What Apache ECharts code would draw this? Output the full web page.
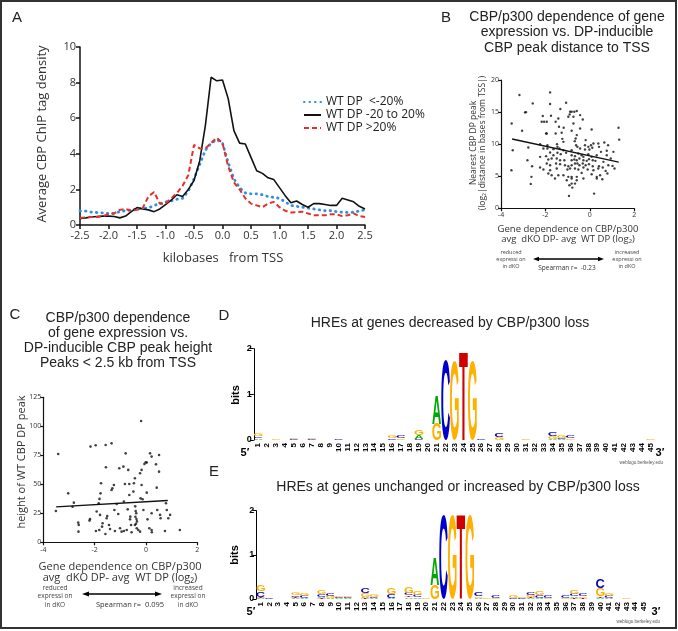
<!DOCTYPE html>
<html><head><meta charset="utf-8">
<script src="https://cdn.jsdelivr.net/npm/echarts@6/dist/echarts.min.js"></script>
<style>html,body{margin:0;padding:0;background:#fff}#c{width:678px;height:631px}</style>
</head><body><div id="c"></div>
<script>
// ---------- Panel A: average tag density profiles ----------
const aX = [-2.5,-2.4,-2.3,-2.2,-2.1,-2.0,-1.9,-1.8,-1.7,-1.6,-1.5,-1.4,-1.3,-1.2,-1.1,-1.0,-0.9,-0.8,-0.7,-0.6,-0.5,-0.4,-0.3,-0.2,-0.1,0.0,0.1,0.2,0.3,0.4,0.5,0.6,0.7,0.8,0.9,1.0,1.1,1.2,1.3,1.4,1.5,1.6,1.7,1.8,1.9,2.0,2.1,2.2,2.3,2.4,2.5];
const aBlue = [0.80,0.78,0.72,0.70,0.68,0.65,0.65,0.75,0.80,0.85,0.90,0.95,0.95,1.10,1.20,1.30,1.35,1.45,1.50,1.90,2.60,3.40,4.20,4.60,4.80,4.60,3.50,2.60,2.10,1.80,1.75,1.75,1.70,1.60,1.55,1.50,1.30,1.10,1.05,1.00,0.95,0.90,0.85,0.80,0.80,0.75,0.72,0.70,0.72,0.78,0.85];
const aBlack = [0.37,0.40,0.45,0.48,0.50,0.50,0.48,0.40,0.50,0.75,0.98,0.90,0.85,0.75,0.90,1.15,1.40,1.70,1.60,2.00,2.50,3.60,5.60,8.30,8.10,8.15,7.10,5.30,4.60,4.55,3.80,3.05,2.90,2.65,2.55,2.10,1.65,1.25,1.35,1.15,1.00,1.20,1.20,1.15,1.10,1.10,1.50,1.40,1.30,1.05,0.90];
const aRed = [0.40,0.42,0.45,0.45,0.50,0.60,0.65,0.85,0.90,0.80,0.85,0.95,1.60,1.85,1.20,1.20,1.50,1.80,2.20,2.80,4.50,4.30,4.30,4.60,4.90,4.60,3.30,2.40,2.00,1.50,1.20,1.10,1.00,1.20,1.30,1.00,0.80,0.70,0.72,0.75,0.65,0.55,0.55,0.55,0.60,0.60,0.50,0.55,0.65,0.50,0.45];
const aNames = ['WT DP  <-20%', 'WT DP -20 to 20%', 'WT DP >20%'];

// ---------- Panel B: distance scatter ----------
const bPoints = [[-3.17,17.66],[-1.79,18.07],[-2.57,16.35],[-1.79,16.25],[-1.07,16.46],[-2.92,14.95],[-2.87,15.0],[-1.33,15.47],[-0.89,15.05],[-0.82,15.05],[-0.70,15.05],[-0.59,15.16],[-0.91,14.64],[-2.12,14.38],[-1.75,14.43],[-0.97,14.27],[-0.74,14.27],[-0.44,14.53],[-0.32,13.85],[-3.52,13.23],[-2.17,13.49],[-2.06,13.49],[-1.94,13.49],[-1.54,13.49],[-1.42,14.01],[-0.74,13.23],[-1.39,12.71],[-1.18,12.55],[-0.44,12.45],[-0.82,12.08],[-3.05,12.08],[-1.97,11.67],[-1.94,11.67],[-1.54,11.67],[-1.27,11.77],[-0.59,11.41],[0.08,12.29],[-1.24,10.83],[-0.64,10.89],[-0.68,10.47],[-0.19,10.63],[-1.19,10.36],[-2.24,10.0],[-1.91,9.84],[-1.48,10.0],[-1.46,9.58],[-0.62,9.84],[-0.56,9.58],[-0.22,9.84],[0.05,9.84],[-0.07,9.58],[0.16,10.10],[0.41,9.58],[0.65,10.26],[0.38,10.10],[0.82,9.84],[-3.47,9.06],[-2.77,9.48],[-2.09,9.32],[-1.91,9.32],[-1.64,9.22],[-1.37,9.32],[-1.19,9.06],[-0.82,9.06],[-0.44,9.32],[-0.22,9.17],[-0.02,9.17],[0.11,9.43],[0.50,8.80],[0.76,8.96],[1.06,8.80],[-2.24,8.02],[-1.97,8.13],[-1.79,8.70],[-1.64,8.28],[-1.46,8.65],[-1.31,8.44],[-1.07,8.65],[-0.82,8.28],[-0.67,8.13],[-0.52,8.54],[-0.37,8.28],[-0.29,8.02],[-0.07,8.44],[0.08,8.02],[0.31,8.28],[0.76,8.28],[-2.81,7.5],[-1.87,7.6],[-1.72,7.76],[-1.49,7.76],[-1.34,7.5],[-1.15,7.5],[-0.82,7.5],[-0.70,7.60],[-0.59,7.5],[-0.47,7.76],[-0.29,7.5],[-0.14,7.40],[-0.04,7.66],[0.13,7.5],[0.25,7.40],[0.61,7.24],[0.94,7.76],[-2.60,6.56],[-1.94,6.98],[-1.79,6.72],[-1.52,6.98],[-1.34,6.88],[-1.12,6.72],[-0.97,6.56],[-0.82,6.72],[-0.67,6.98],[-0.56,6.98],[-0.47,6.72],[-0.32,6.98],[-0.19,6.72],[-0.04,6.88],[0.13,6.56],[0.41,6.56],[0.83,6.72],[1.02,6.61],[-3.53,5.94],[-2.24,6.35],[-2.09,6.04],[-1.79,5.94],[-1.49,6.20],[-1.01,6.04],[-0.89,6.20],[-0.67,6.20],[-0.52,6.04],[-0.29,6.35],[-0.10,6.04],[0.16,5.94],[0.38,6.20],[0.71,5.83],[0.58,6.35],[-2.63,4.9],[-1.87,5.42],[-1.72,5.16],[-1.42,5.16],[-1.19,5.16],[-0.97,4.90],[-0.82,4.90],[-0.59,4.90],[-0.37,5.52],[0.08,5.31],[0.31,4.90],[0.46,5.16],[0.79,5.42],[1.11,6.20],[-2.66,3.8],[-1.57,4.64],[-1.04,4.38],[-0.82,4.64],[-0.59,4.38],[-0.29,4.64],[0.31,4.64],[0.56,4.53],[-0.92,3.59],[-0.82,3.85],[-0.79,3.23],[-0.67,3.85],[-0.94,1.93],[0.19,2.29],[1.29,12.55],[1.32,10.7]];
const bFit = [[-3.5,10.8],[1.3,7.2]];

// ---------- Panel C: peak height scatter ----------
const cPoints = [[-3.42,76.1],[-3.51,27.0],[-3.03,42.2],[-2.81,34.2],[-2.86,30.7],[-2.64,17],[-2.62,15],[-2.63,9.2],[-2.18,20],[-2.2,18.7],[-2.16,82.5],[-1.96,83.6],[-1.95,9.8],[-1.92,26.5],[-1.84,33.6],[-1.81,37.4],[-1.77,42.2],[-1.75,50.9],[-1.69,16.4],[-1.71,13.5],[-1.57,83.9],[-1.34,85.3],[-1.56,64.7],[-1.53,20.7],[-1.51,22.7],[-1.58,7.2],[-1.44,14.9],[-1.40,11.5],[-1.34,45.1],[-1.31,46.6],[-1.25,49.4],[-1.21,9.8],[-1.23,27.9],[-1.14,33.0],[-1.08,24.4],[-1.04,63.8],[-0.88,65.2],[-0.79,76.7],[-0.82,50.3],[-0.86,35.1],[-0.86,9.8],[-0.75,10.6],[-0.69,62.4],[-0.65,50.3],[-0.65,40.8],[-0.61,22.1],[-0.62,19.8],[-0.58,14.9],[-0.56,8.6],[-0.71,28.4],[-0.49,43.7],[-0.47,50.9],[-0.43,55.2],[-0.42,31],[-0.40,27],[-0.38,25],[-0.41,22],[-0.37,20],[-0.35,18],[-0.39,16],[-0.43,14.9],[-0.36,12.1],[-0.30,10.6],[-0.23,9.2],[-0.23,59.5],[-0.21,37.9],[-0.19,104.6],[-0.17,62.4],[-0.17,49.4],[-0.13,37.1],[-0.10,27.9],[-0.06,67.5],[-0.01,69],[0.03,68.7],[0.03,42.8],[0.06,19.8],[0.13,12.1],[0.22,73.9],[0.16,76.7],[0.22,25],[0.22,10.6],[0.23,8.6],[0.39,67.2],[0.42,47.1],[0.44,27.9],[0.51,75.3],[0.51,60.9],[0.55,23.6],[0.57,20.7],[0.74,9.8],[0.81,27.9],[0.78,33.6],[0.87,20.7],[0.94,23.6],[1.32,10.6],[-1.82,10.6],[-1.01,12.1],[-0.95,9.2],[-1.79,23.6]];
const cFit = [[-3.5,30.5],[0.85,36]];

// ---------- Panels D/E: sequence logos (bits per letter, positions 1..45) ----------
const logoPositions = ['1','2','3','4','5','6','7','8','9','10','11','12','13','14','15','16','17','18','19','20','21','22','23','24','25','26','27','28','29','30','31','32','33','34','35','36','37','38','39','40','41','42','43','44','45'];
const dA = [0.03,0,0,0,0,0,0,0,0,0, 0,0,0,0,0,0,0,0,0.08,0, 0.62,0,0,0,0,0,0,0,0,0, 0,0,0,0.02,0.02,0,0,0,0,0, 0,0,0,0,0];
const dC = [0.04,0,0,0,0.02,0.01,0.02,0,0,0.03, 0,0,0,0,0,0.04,0.06,0,0.02,0, 0,1.75,0,0,0,0.03,0,0.07,0,0, 0,0,0,0.07,0.02,0.05,0,0,0,0, 0,0,0,0,0];
const dG = [0.06,0,0.02,0,0.02,0.01,0.03,0,0,0.01, 0,0,0,0,0,0.06,0.04,0.01,0.12,0.01, 0.36,0,1.72,0,1.72,0.01,0.01,0.06,0,0, 0.02,0,0,0.06,0.05,0.04,0,0,0,0, 0,0,0,0,0.02];
const dT = [0.01,0,0,0,0,0,0,0,0,0, 0,0,0,0,0,0.01,0,0,0,0, 0,0,0,1.93,0,0,0,0.01,0,0, 0,0,0,0,0,0,0,0,0,0, 0,0,0,0,0];
const eA = [0.02,0,0,0,0.02,0.02,0,0.03,0.02,0.02, 0.02,0,0.03,0.02,0,0.03,0,0.04,0.04,0, 0.62,0,0,0,0,0.03,0,0,0,0, 0,0.02,0.03,0,0,0,0.04,0,0,0.02, 0.02,0,0,0,0];
const eC = [0.13,0.03,0,0,0.04,0.05,0,0.06,0.06,0.03, 0.03,0,0.12,0.03,0,0.08,0,0.05,0.06,0.01, 0,1.9,0,0,0,0.09,0,0.05,0,0.03, 0.02,0.07,0.05,0.05,0,0.05,0.05,0.06,0,0.22, 0.05,0,0,0,0];
const eG = [0.15,0,0,0,0.07,0.06,0,0.09,0.05,0.04, 0.04,0,0.08,0.05,0,0.15,0,0.14,0.10,0.02, 0.32,0,1.9,0,1.9,0.04,0.02,0.03,0,0.05, 0.04,0.05,0.08,0.03,0,0.03,0.10,0.04,0,0.19, 0.07,0.01,0.02,0,0];
const eT = [0.02,0,0,0,0.02,0,0,0.02,0,0, 0,0,0.02,0,0,0,0,0.04,0,0, 0,0,0,1.9,0,0,0,0,0,0, 0,0.02,0,0,0,0,0.02,0.02,0,0.04, 0,0,0,0,0];

// ---------- helpers ----------
const LETTERS = ['A','C','G','T'];
const LCOL = {A:'#00a800', C:'#0000cc', G:'#ffb000', T:'#d00000'};
const LFONT = 'Liberation Sans';
const mctx = document.createElement('canvas').getContext('2d');
mctx.font = 'bold 100px ' + LFONT; mctx.textBaseline = 'middle'; mctx.textAlign = 'center';
const MET = {};
LETTERS.forEach(L => { const m = mctx.measureText(L); MET[L] = {l:m.actualBoundingBoxLeft, r:m.actualBoundingBoxRight, a:m.actualBoundingBoxAscent, d:m.actualBoundingBoxDescent}; });

function buildLogo(arrs) {
  const out = [];
  for (let i = 0; i < logoPositions.length; i++) {
    const items = LETTERS.map((L, k) => ({k, h: arrs[k][i]})).filter(o => o.h > 0).sort((a, b) => a.h - b.h);
    let base = 0;
    items.forEach(o => { out.push([i, base, base + o.h, o.k]); base += o.h; });
  }
  return out;
}
function renderLogo(params, api) {
  const i = api.value(0), b = api.value(1), t = api.value(2), L = LETTERS[api.value(3)];
  const p0 = api.coord([i, b]), p1 = api.coord([i, t]);
  const bw = api.size([1, 0])[0] * 0.98;
  const h = p0[1] - p1[1];
  if (h < 0.35) return null;
  const m = MET[L];
  const sx = bw / (m.l + m.r), sy = h / (m.a + m.d);
  return {type:'text', silent:true, x: p0[0] - bw/2 + m.l*sx, y: p1[1] + m.a*sy, scaleX: sx, scaleY: sy,
    style:{text:L, fontSize:100, fontWeight:'bold', fontFamily:LFONT, fill:LCOL[L], align:'center', verticalAlign:'middle', textAlign:'center', textVerticalAlign:'middle'}};
}

const G = [];
function txt(x, y, text, size, o) {
  o = o || {};
  G.push({type:'text', x, y, rotation: o.rot || 0, silent:true,
    style:{text, fontSize:size, fontFamily:o.family || 'Liberation Sans', fontWeight:o.weight || 'normal', fill:o.color || '#222',
      align:o.align || 'center', verticalAlign:'middle', textAlign:o.align || 'center', textVerticalAlign:'middle'}});
}
function arrow(x1, x2, y, hw, hl) {
  G.push({type:'line', silent:true, shape:{x1:x1+hl-1, y1:y, x2:x2-hl+1, y2:y}, style:{stroke:'#000', lineWidth:1.3}});
  G.push({type:'polygon', silent:true, shape:{points:[[x1,y],[x1+hl,y-hw],[x1+hl,y+hw]]}, style:{fill:'#000'}});
  G.push({type:'polygon', silent:true, shape:{points:[[x2,y],[x2-hl,y-hw],[x2-hl,y+hw]]}, style:{fill:'#000'}});
}

// frame
G.push({type:'rect', silent:true, shape:{x:1, y:1, width:675, height:627}, style:{fill:'none', stroke:'#333', lineWidth:2}});
// panel A texts
txt(17, 18, 'A', 15);
txt(42, 134, 'Average CBP ChIP tag density', 13, {rot:Math.PI/2, family:'Open Sans', color:'#333'});
txt(223, 258, 'kilobases   from TSS', 13, {family:'Open Sans', color:'#333'});
// panel B texts
txt(446, 18, 'B', 15);
txt(567, 17, 'CBP/p300 dependence of gene', 14);
txt(567, 32.5, 'expression vs. DP-inducible', 14);
txt(567, 48, 'CBP peak distance to TSS', 14);
txt(474, 143, 'Nearest CBP DP peak', 8.5, {rot:Math.PI/2, family:'Open Sans', color:'#333'});
txt(483, 143, '(log\u2082|distance in bases from TSS|)', 8.5, {rot:Math.PI/2, family:'Open Sans', color:'#333'});
txt(568, 229, 'Gene dependence on CBP/p300', 9.5, {family:'Open Sans', color:'#333'});
txt(568, 239, 'avg  dKO DP- avg  WT DP (log\u2082)', 9.5, {family:'Open Sans', color:'#333'});
txt(511, 252, 'reduced', 5.5, {family:'Open Sans', color:'#444'});
txt(511, 259, 'expressi on', 5.5, {family:'Open Sans', color:'#444'});
txt(511, 266, 'in dKO', 5.5, {family:'Open Sans', color:'#444'});
txt(627, 252, 'increased', 5.5, {family:'Open Sans', color:'#444'});
txt(627, 259, 'expressi on', 5.5, {family:'Open Sans', color:'#444'});
txt(627, 266, 'in dKO', 5.5, {family:'Open Sans', color:'#444'});
arrow(533, 604, 259, 2.2, 6);
txt(567, 268, 'Spearman r=  -0.23', 6.5, {family:'Open Sans', color:'#333'});
// panel C texts
txt(15, 315, 'C', 15);
txt(118, 318, 'CBP/p300 dependence', 14);
txt(118, 333, 'of gene expression vs.', 14);
txt(118, 348, 'DP-inducible CBP peak height', 14);
txt(118, 363, 'Peaks < 2.5 kb from TSS', 14);
txt(22, 462, 'height of WT CBP DP peak', 11, {rot:Math.PI/2, family:'Open Sans', color:'#333'});
txt(120, 567, 'Gene dependence on CBP/p300', 11, {family:'Open Sans', color:'#333'});
txt(120, 578, 'avg  dKO DP- avg  WT DP (log\u2082)', 11, {family:'Open Sans', color:'#333'});
txt(55, 588, 'reduced', 6.5, {family:'Open Sans', color:'#444'});
txt(55, 596, 'expressi on', 6.5, {family:'Open Sans', color:'#444'});
txt(55, 605, 'in dKO', 6.5, {family:'Open Sans', color:'#444'});
txt(188, 588, 'increased', 6.5, {family:'Open Sans', color:'#444'});
txt(188, 596, 'expressi on', 6.5, {family:'Open Sans', color:'#444'});
txt(188, 605, 'in dKO', 6.5, {family:'Open Sans', color:'#444'});
arrow(82, 162, 594, 2.5, 7);
txt(130, 605, 'Spearman r=  0.095', 7.5, {family:'Open Sans', color:'#333'});
// panel D texts
txt(224, 316, 'D', 15);
txt(450, 323, 'HREs at genes decreased by CBP/p300 loss', 14);
txt(236, 395, 'bits', 11, {rot:Math.PI/2, weight:'bold', color:'#000'});
txt(245, 453, '5\u2032', 11, {weight:'bold', color:'#000'});
txt(660, 453, '3\u2032', 11, {weight:'bold', color:'#000'});
txt(663, 463, 'weblogo.berkeley.edu', 4.5, {align:'right', color:'#555'});
// panel E texts
txt(214, 472, 'E', 15);
txt(458, 487, 'HREs at genes unchanged or increased by CBP/p300 loss', 14);
txt(235, 555, 'bits', 11, {rot:Math.PI/2, weight:'bold', color:'#000'});
txt(251, 612, '5\u2032', 11, {weight:'bold', color:'#000'});
txt(656, 612, '3\u2032', 11, {weight:'bold', color:'#000'});
txt(660, 622, 'weblogo.berkeley.edu', 4.5, {align:'right', color:'#555'});

function valAxis(grid, min, max, interval, fs, opts) {
  opts = opts || {};
  return {type:'value', gridIndex:grid, min, max, interval,
    axisLine:{show:true, onZero:false, lineStyle:{color:'#111', width:opts.lw || 1.2}},
    axisTick:{show:true, length:opts.tl || 3, lineStyle:{color:'#111', width:opts.lw || 1.2}},
    axisLabel:{fontSize:fs, color:'#333', fontFamily:'Open Sans', margin:opts.margin || 3, formatter:opts.fmt},
    splitLine:{show:false}};
}
function logoX(grid) {
  return {type:'category', gridIndex:grid, data:logoPositions, boundaryGap:true,
    axisLine:{show:false}, axisTick:{show:false},
    axisLabel:{interval:0, rotate:90, fontSize:8, fontWeight:'bold', color:'#000', fontFamily:'Liberation Sans', margin:3}};
}
function logoY(grid) {
  return {type:'value', gridIndex:grid, min:0, max:2, interval:1,
    axisLine:{show:true, lineStyle:{color:'#000', width:1}}, axisTick:{show:true, length:4, lineStyle:{color:'#000'}},
    axisLabel:{fontSize:9, fontWeight:'bold', color:'#000', fontFamily:'Liberation Sans', margin:2}, splitLine:{show:false}};
}
const gridBase = {containLabel:false, outerBoundsMode:'none'};

const option = {
  animation:false,
  backgroundColor:'#fff',
  grid:[
    Object.assign({left:80, top:47, width:285, height:178}, gridBase),
    Object.assign({left:501, top:80, width:133.3, height:128.3}, gridBase),
    Object.assign({left:43.3, top:397.3, width:154, height:145}, gridBase),
    Object.assign({left:253.8, top:348.7, width:401.4, height:91.3}, gridBase),
    Object.assign({left:256.3, top:510.7, width:392, height:88.3}, gridBase)
  ],
  xAxis:[
    valAxis(0, -2.5, 2.5, 0.5, 11, {lw:1.5, tl:4, margin:5, fmt: v => v.toFixed(1)}),
    valAxis(1, -4, 2, 2, 7, {margin:3}),
    valAxis(2, -4, 2, 2, 7, {margin:4}),
    logoX(3), logoX(4)
  ],
  yAxis:[
    valAxis(0, 0, 10, 2, 11, {lw:1.5, tl:4, margin:4}),
    valAxis(1, 0, 20, 5, 7, {margin:2}),
    valAxis(2, 0, 125, 25, 7, {margin:2}),
    logoY(3), logoY(4)
  ],
  legend:{data:aNames, orient:'vertical', left:298, top:91, itemWidth:17, itemHeight:14, itemGap:1,
    itemStyle:{opacity:0},
    textStyle:{fontSize:12, color:'#222', fontFamily:'Open Sans'}, selectedMode:false},
  graphic:{elements:G},
  series:[
    {name:aNames[0], type:'line', xAxisIndex:0, yAxisIndex:0, data:aX.map((x,i)=>[x,aBlue[i]]), symbol:'none', showSymbol:false,
      lineStyle:{color:'#2f8fe0', width:2.8, type:[0.5,5], cap:'round'}, itemStyle:{color:'#2f8fe0'}},
    {name:aNames[1], type:'line', xAxisIndex:0, yAxisIndex:0, data:aX.map((x,i)=>[x,aBlack[i]]), symbol:'none', showSymbol:false,
      lineStyle:{color:'#111', width:1.6}, itemStyle:{color:'#111'}},
    {name:aNames[2], type:'line', xAxisIndex:0, yAxisIndex:0, data:aX.map((x,i)=>[x,aRed[i]]), symbol:'none', showSymbol:false,
      lineStyle:{color:'#e4302b', width:2, type:[5,3]}, itemStyle:{color:'#e4302b'}},
    {type:'scatter', xAxisIndex:1, yAxisIndex:1, data:bPoints, symbolSize:2.4, itemStyle:{color:'#111'}, silent:true},
    {type:'line', xAxisIndex:1, yAxisIndex:1, data:bFit, symbol:'none', lineStyle:{color:'#111', width:1.4}, silent:true},
    {type:'scatter', xAxisIndex:2, yAxisIndex:2, data:cPoints, symbolSize:2.6, itemStyle:{color:'#111'}, silent:true},
    {type:'line', xAxisIndex:2, yAxisIndex:2, data:cFit, symbol:'none', lineStyle:{color:'#111', width:1.4}, silent:true},
    {type:'custom', xAxisIndex:3, yAxisIndex:3, data:buildLogo([dA,dC,dG,dT]), renderItem:renderLogo, encode:{x:0, y:[1,2]}, silent:true},
    {type:'custom', xAxisIndex:4, yAxisIndex:4, data:buildLogo([eA,eC,eG,eT]), renderItem:renderLogo, encode:{x:0, y:[1,2]}, silent:true}
  ]
};
const chart = echarts.init(document.getElementById('c'), null, {renderer:'canvas'});
chart.setOption(option);
</script></body></html>
